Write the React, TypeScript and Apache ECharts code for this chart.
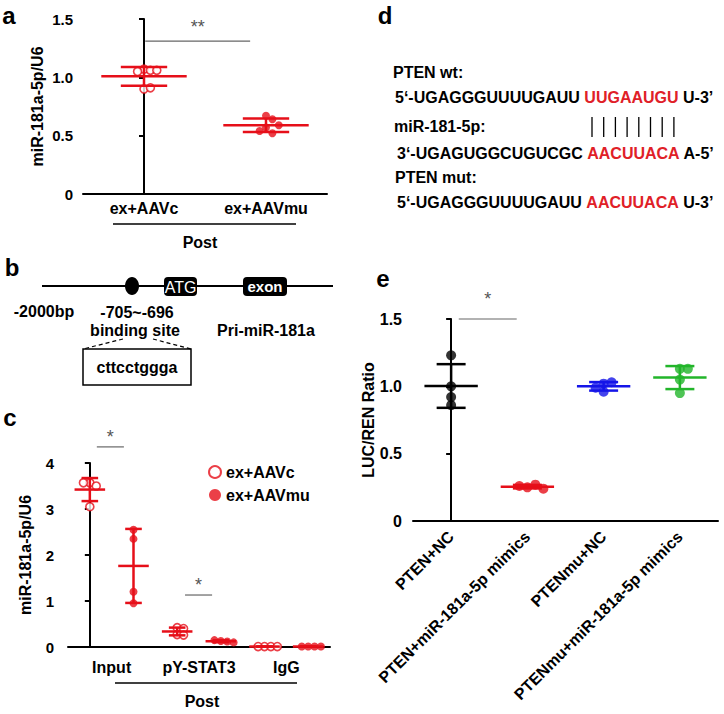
import React, { useEffect, useRef } from "react";
import * as echarts from "echarts";

const RED = "#e60f19";
const RED_TEXT = "#e02027";
const BLACK = "#000000";
const BLUE = "#1515e8";
const GREEN = "#22b52a";
const FF = "'Liberation Sans', Arial, Helvetica, sans-serif";

// ---------------- Panel a ----------------
const aCategories = ["ex+AAVc", "ex+AAVmu"];
const aAAVc = [1.07, 1.06, 1.05, 1.06, 0.9, 0.91];
const aAAVmu = [0.67, 0.64, 0.57, 0.52, 0.54, 0.59];
const aYTicks = [0, 0.5, 1.0, 1.5];
const aYTickLabels = ["0", "0.5", "1.0", "1.5"];
const aSig = [[0.01, 0.87, 1.31]];
const aSigLabels = ["**"];

// ---------------- Panel c ----------------
const cCategories = ["Input", "pY-STAT3", "IgG"];
const cSeriesNames = ["ex+AAVc", "ex+AAVmu"];
const cInputAAVc = [3.57, 3.5, 3.57, 3.05];
const cInputAAVmu = [2.55, 2.35, 1.2, 0.95];
const cPYAAVc = [0.42, 0.4, 0.27, 0.26];
const cPYAAVmu = [0.13, 0.12, 0.15, 0.1];
const cIgGAAVc = [0.01, 0.01, 0.01, 0.01];
const cIgGAAVmu = [0.01, 0.01, 0.01, 0.01];
const cYTicks = [0, 1, 2, 3, 4];
const cYTickLabels = ["0", "1", "2", "3", "4"];
const cSig = [
  [0.16, 0.78, 4.35],
  [2.18, 2.8, 1.13],
];
const cSigLabels = ["*", "*"];

// ---------------- Panel e ----------------
const eCategories = [
  "PTEN+NC",
  "PTEN+miR-181a-5p mimics",
  "PTENmu+NC",
  "PTENmu+miR-181a-5p mimics",
];
const ePTENNC = [1.23, 1.0, 0.92, 0.86];
const ePTENMimics = [0.25, 0.27, 0.26, 0.24];
const ePTENmuNC = [1.02, 1.03, 0.99, 0.96];
const ePTENmuMimics = [1.13, 1.13, 1.05, 0.95];
const eYTicks = [0, 0.5, 1.0, 1.5];
const eYTickLabels = ["0", "0.5", "1.0", "1.5"];
const eSig = [[0.1, 0.86, 1.5]];
const eSigLabels = ["*"];

// ---------------- Panel b texts ----------------
const bStart = "-2000bp";
const bSite = "-705~-696";
const bSiteName = "binding site";
const bGene = "Pri-miR-181a";
const bSeq = "cttcctggga";

// ---------------- Panel d texts ----------------
const dWtLabel = "PTEN wt:";
const dWtSeq = ["5‘-UGAGGGUUUUGAUU ", "UUGAAUGU", " U-3’"];
const dMirLabel = "miR-181-5p:";
const dMirSeq = ["3‘-UGAGUGGCUGUCGC ", "AACUUACA", " A-5’"];
const dMutLabel = "PTEN mut:";
const dMutSeq = ["5‘-UGAGGGUUUUGAUU ", "AACUUACA", " U-3’"];
const dPairs = 8;

// ---------------- layout ----------------
const GA = { left: 83, top: 19, width: 244, height: 175 };
const GC = { left: 68, top: 463, width: 262, height: 184 };
const GE = { left: 413, top: 319, width: 305, height: 202 };

function mean(v: number[]) {
  return v.reduce((s, x) => s + x, 0) / v.length;
}
function sd(v: number[]) {
  const m = mean(v);
  return Math.sqrt(v.reduce((s, x) => s + (x - m) * (x - m), 0) / (v.length - 1));
}

// simple beeswarm: offsets points sideways so they do not overlap much
function swarm(values: number[], center: number, pxPerCat: number, pxPerY: number, diam: number) {
  const step = diam * 0.8;
  const placed: { px: number; py: number }[] = [];
  const out: number[][] = [];
  const cands = [0, 1, -1, 2, -2];
  values.forEach((v) => {
    const py = v * pxPerY;
    let chosen = 0;
    let best = -1;
    let found = false;
    for (const c of cands) {
      const px = c * step;
      const dmin = placed.length
        ? Math.min(...placed.map((p) => Math.hypot(p.px - px, p.py - py)))
        : Infinity;
      if (dmin >= step) {
        chosen = px;
        found = true;
        break;
      }
      if (dmin > best) {
        best = dmin;
        chosen = px;
      }
    }
    if (!found && best < 0) chosen = 0;
    placed.push({ px: chosen, py });
    out.push([center + chosen / pxPerCat, v]);
  });
  return out;
}

function tickFormatter(ticks: number[], labels: string[]) {
  return (v: number) => {
    const i = ticks.findIndex((t) => Math.abs(t - v) < 1e-9);
    return i >= 0 ? labels[i] : String(v);
  };
}

function yAxis(gridIndex: number, ticks: number[], labels: string[], name: string, nameGap: number, fontSize: number, margin: number) {
  return {
    type: "value",
    gridIndex,
    min: ticks[0],
    max: ticks[ticks.length - 1],
    interval: ticks[1] - ticks[0],
    name,
    nameLocation: "middle",
    nameGap,
    nameRotate: 90,
    nameMoveOverlap: false,
    nameTextStyle: { fontSize: 16, fontWeight: "bold", color: BLACK, fontFamily: FF },
    axisLine: { show: true, lineStyle: { color: BLACK, width: 2 } },
    axisTick: { show: true, length: 5, lineStyle: { color: BLACK, width: 2 } },
    axisLabel: { fontSize, fontWeight: "bold", color: BLACK, fontFamily: FF, margin, formatter: tickFormatter(ticks, labels) },
    splitLine: { show: false },
  };
}

function catAxis(gridIndex: number, data: string[], fontSize: number, margin: number, rotate = 0) {
  return {
    type: "category",
    gridIndex,
    data,
    boundaryGap: true,
    axisLine: { show: true, lineStyle: { color: BLACK, width: 2 } },
    axisTick: { show: false },
    axisLabel: { interval: 0, fontSize, fontWeight: "bold", color: BLACK, fontFamily: FF, margin, rotate, hideOverlap: false },
    splitLine: { show: false },
  };
}

function hiddenX(gridIndex: number, n: number) {
  return { type: "value", gridIndex, min: -0.5, max: n - 0.5, show: false, splitLine: { show: false } };
}

function errorSeries(xAxisIndex: number, yAxisIndex: number, items: { x: number; values: number[]; color: string }[], lw: number) {
  return {
    type: "custom",
    name: "err" + xAxisIndex,
    xAxisIndex,
    yAxisIndex,
    z: 5,
    silent: true,
    clip: false,
    encode: { x: 0, y: 1 },
    data: items.map((it) => [it.x, mean(it.values), sd(it.values)]),
    renderItem: (params: any, api: any) => {
      const x = api.value(0);
      const m = api.value(1);
      const s = api.value(2);
      const color = items[params.dataIndex].color;
      const c = api.coord([x, m]);
      const t = api.coord([x, m + s]);
      const b = api.coord([x, m - s]);
      const unit = api.size([1, 0])[0];
      const hw = unit * 0.35;
      const cw = unit * 0.19;
      const st = { stroke: color, lineWidth: lw };
      return {
        type: "group",
        children: [
          { type: "line", shape: { x1: c[0] - hw, y1: c[1], x2: c[0] + hw, y2: c[1] }, style: st },
          { type: "line", shape: { x1: c[0], y1: t[1], x2: c[0], y2: b[1] }, style: st },
          { type: "line", shape: { x1: c[0] - cw, y1: t[1], x2: c[0] + cw, y2: t[1] }, style: st },
          { type: "line", shape: { x1: c[0] - cw, y1: b[1], x2: c[0] + cw, y2: b[1] }, style: st },
        ],
      };
    },
  };
}

function sigSeries(xAxisIndex: number, yAxisIndex: number, sigs: number[][], labels: string[], gap: number) {
  return {
    type: "custom",
    name: "sig" + xAxisIndex,
    xAxisIndex,
    yAxisIndex,
    z: 6,
    silent: true,
    clip: false,
    encode: { x: [0, 1], y: 2 },
    data: sigs,
    renderItem: (params: any, api: any) => {
      const p1 = api.coord([api.value(0), api.value(2)]);
      const p2 = api.coord([api.value(1), api.value(2)]);
      return {
        type: "group",
        children: [
          { type: "line", shape: { x1: p1[0], y1: p1[1], x2: p2[0], y2: p2[1] }, style: { stroke: "#666", lineWidth: 1.2 } },
          {
            type: "text",
            x: (p1[0] + p2[0]) / 2,
            y: p1[1] - gap,
            style: {
              text: labels[params.dataIndex],
              fill: "#555",
              font: `normal 18px ${FF}`,
              align: "center",
              verticalAlign: "middle",
              textAlign: "center",
              textVerticalAlign: "middle",
            },
          },
        ],
      };
    },
  };
}

function txt(text: string, x: number, y: number, size: number, opts: any = {}) {
  return {
    type: "text",
    x,
    y,
    style: {
      text,
      font: `${opts.weight || "bold"} ${size}px ${FF}`,
      fill: opts.fill || BLACK,
      align: opts.align || "center",
      verticalAlign: "middle",
      textAlign: opts.align || "center",
      textVerticalAlign: "middle",
      rich: opts.rich,
    },
  };
}

function line(x1: number, y1: number, x2: number, y2: number, lw: number, dash?: number[]) {
  return {
    type: "line",
    shape: { x1, y1, x2, y2 },
    style: { stroke: BLACK, lineWidth: lw, lineDash: dash },
  };
}

function seqText(parts: string[], x: number, y: number) {
  const f = `bold 16px ${FF}`;
  return txt(`${parts[0]}{r|${parts[1]}}${parts[2]}`, x, y, 16, {
    align: "left",
    rich: { r: { fill: RED_TEXT, font: f } },
  });
}

export default function App() {
  const ref = useRef<HTMLDivElement>(null);

  useEffect(() => {
    if (!ref.current) return;
    const chart = echarts.init(ref.current, undefined, { renderer: "svg" });

    const aPxY = GA.height / (aYTicks[aYTicks.length - 1] - aYTicks[0]);
    const aPxX = GA.width / aCategories.length;
    const cPxY = GC.height / (cYTicks[cYTicks.length - 1] - cYTicks[0]);
    const cPxX = GC.width / (cCategories.length * 2);
    const ePxY = GE.height / (eYTicks[eYTicks.length - 1] - eYTicks[0]);
    const ePxX = GE.width / eCategories.length;

    const hollow = { color: "#ffffff", borderColor: RED, borderWidth: 1.6 };
    const filled = { color: RED, borderColor: RED, borderWidth: 0 };

    const pairsX: number[] = [];
    for (let i = 0; i < dPairs; i++) pairsX.push(592 + i * 11.7);

    const option: any = {
      animation: false,
      textStyle: { fontFamily: FF, fontWeight: "bold", color: BLACK },
      grid: [
        { ...GA, containLabel: false, outerBoundsMode: "none" },
        { ...GC, containLabel: false, outerBoundsMode: "none" },
        { ...GE, containLabel: false, outerBoundsMode: "none" },
      ],
      xAxis: [
        catAxis(0, aCategories, 16, 6),
        hiddenX(0, aCategories.length),
        catAxis(1, cCategories, 16, 12),
        hiddenX(1, cCategories.length * 2),
        catAxis(2, eCategories, 16, 13, 45),
        hiddenX(2, eCategories.length),
      ],
      yAxis: [
        yAxis(0, aYTicks, aYTickLabels, "miR-181a-5p/U6", 38, 15, 10),
        yAxis(1, cYTicks, cYTickLabels, "miR-181a-5p/U6", 35, 15, 14),
        yAxis(2, eYTicks, eYTickLabels, "LUC/REN Ratio", 37, 16, 11),
      ],
      legend: {
        data: cSeriesNames,
        orient: "vertical",
        left: 203,
        top: 459,
        itemWidth: 12,
        itemHeight: 12,
        itemGap: 7,
        icon: "circle",
        textStyle: { fontSize: 16, fontWeight: "bold", color: BLACK, fontFamily: FF },
      },
      series: [
        // panel a
        {
          type: "scatter", name: "a-" + aCategories[0], xAxisIndex: 1, yAxisIndex: 0, symbol: "circle", symbolSize: 8, clip: false, z: 3,
          itemStyle: hollow, data: swarm(aAAVc, 0, aPxX, aPxY, 8),
        },
        {
          type: "scatter", name: "a-" + aCategories[1], xAxisIndex: 1, yAxisIndex: 0, symbol: "circle", symbolSize: 8, clip: false, z: 3,
          itemStyle: filled, data: swarm(aAAVmu, 1, aPxX, aPxY, 8),
        },
        errorSeries(1, 0, [
          { x: 0, values: aAAVc, color: RED },
          { x: 1, values: aAAVmu, color: RED },
        ], 2.5),
        sigSeries(1, 0, aSig, aSigLabels, 14),
        // panel c
        {
          type: "scatter", name: cSeriesNames[0], xAxisIndex: 3, yAxisIndex: 1, symbol: "circle", symbolSize: 8, clip: false, z: 3,
          itemStyle: hollow,
          data: [
            ...swarm(cInputAAVc, 0, cPxX, cPxY, 8),
            ...swarm(cPYAAVc, 2, cPxX, cPxY, 8),
            ...swarm(cIgGAAVc, 4, cPxX, cPxY, 8),
          ],
        },
        {
          type: "scatter", name: cSeriesNames[1], xAxisIndex: 3, yAxisIndex: 1, symbol: "circle", symbolSize: 8, clip: false, z: 3,
          itemStyle: filled,
          data: [
            ...swarm(cInputAAVmu, 1, cPxX, cPxY, 8),
            ...swarm(cPYAAVmu, 3, cPxX, cPxY, 8),
            ...swarm(cIgGAAVmu, 5, cPxX, cPxY, 8),
          ],
        },
        errorSeries(3, 1, [
          { x: 0, values: cInputAAVc, color: RED },
          { x: 1, values: cInputAAVmu, color: RED },
          { x: 2, values: cPYAAVc, color: RED },
          { x: 3, values: cPYAAVmu, color: RED },
          { x: 4, values: cIgGAAVc, color: RED },
          { x: 5, values: cIgGAAVmu, color: RED },
        ], 2.5),
        sigSeries(3, 1, cSig, cSigLabels, 10),
        // panel e
        ...[ePTENNC, ePTENMimics, ePTENmuNC, ePTENmuMimics].map((vals, i) => ({
          type: "scatter", name: eCategories[i], xAxisIndex: 5, yAxisIndex: 2, symbol: "circle", symbolSize: 10, clip: false, z: 3,
          itemStyle: { color: [BLACK, RED, BLUE, GREEN][i] },
          data: swarm(vals, i, ePxX, ePxY, 10),
        })),
        errorSeries(5, 2, [
          { x: 0, values: ePTENNC, color: BLACK },
          { x: 1, values: ePTENMimics, color: RED },
          { x: 2, values: ePTENmuNC, color: BLUE },
          { x: 3, values: ePTENmuMimics, color: GREEN },
        ], 2.5),
        sigSeries(5, 2, eSig, eSigLabels, 20),
      ],
      graphic: {
        elements: [
          // panel letters
          txt("a", 9, 15, 24),
          txt("b", 12, 267, 24),
          txt("c", 10, 417, 24),
          txt("d", 385, 15, 24),
          txt("e", 383, 278, 24),
          // panel a group line
          line(113, 224, 296, 224, 1.5),
          txt("Post", 200, 242, 16),
          // panel b
          line(42, 286, 333, 286, 2),
          { type: "ellipse", shape: { cx: 132, cy: 286, rx: 7, ry: 9 }, style: { fill: BLACK } },
          { type: "rect", shape: { x: 164, y: 277, width: 33, height: 19, r: 4 }, style: { fill: BLACK } },
          txt("ATG", 180.5, 287, 16, { weight: "normal", fill: "#ffffff" }),
          { type: "rect", shape: { x: 243, y: 277, width: 44, height: 19, r: 4 }, style: { fill: BLACK } },
          txt("exon", 265, 286, 15, { fill: "#ffffff" }),
          txt(bStart, 44, 311, 16),
          txt(bSite, 137, 312, 16),
          txt(bSiteName, 135, 330, 16),
          txt(bGene, 266, 330, 16),
          line(123, 339, 83, 349, 1.2, [4, 3]),
          line(153, 339, 191, 349, 1.2, [4, 3]),
          { type: "rect", shape: { x: 83, y: 349, width: 108, height: 36 }, style: { fill: "none", stroke: BLACK, lineWidth: 1.5 } },
          txt(bSeq, 137, 367, 16),
          // panel c group line
          line(115, 683, 297, 683, 1.5),
          txt("Post", 202, 701, 16),
          // panel d
          txt(dWtLabel, 393, 72, 16, { align: "left" }),
          seqText(dWtSeq, 395, 97),
          txt(dMirLabel, 394, 126, 16, { align: "left" }),
          ...pairsX.map((x) => line(x, 117, x, 137, 1.3)),
          seqText(dMirSeq, 397, 153),
          txt(dMutLabel, 395, 177, 16, { align: "left" }),
          seqText(dMutSeq, 397, 202),
        ],
      },
    };

    chart.setOption(option);
    return () => chart.dispose();
  }, []);

  return (
    <div
      ref={ref}
      style={{ position: "absolute", left: 0, top: 0, width: 724, height: 714, background: "#fff" }}
    />
  );
}
